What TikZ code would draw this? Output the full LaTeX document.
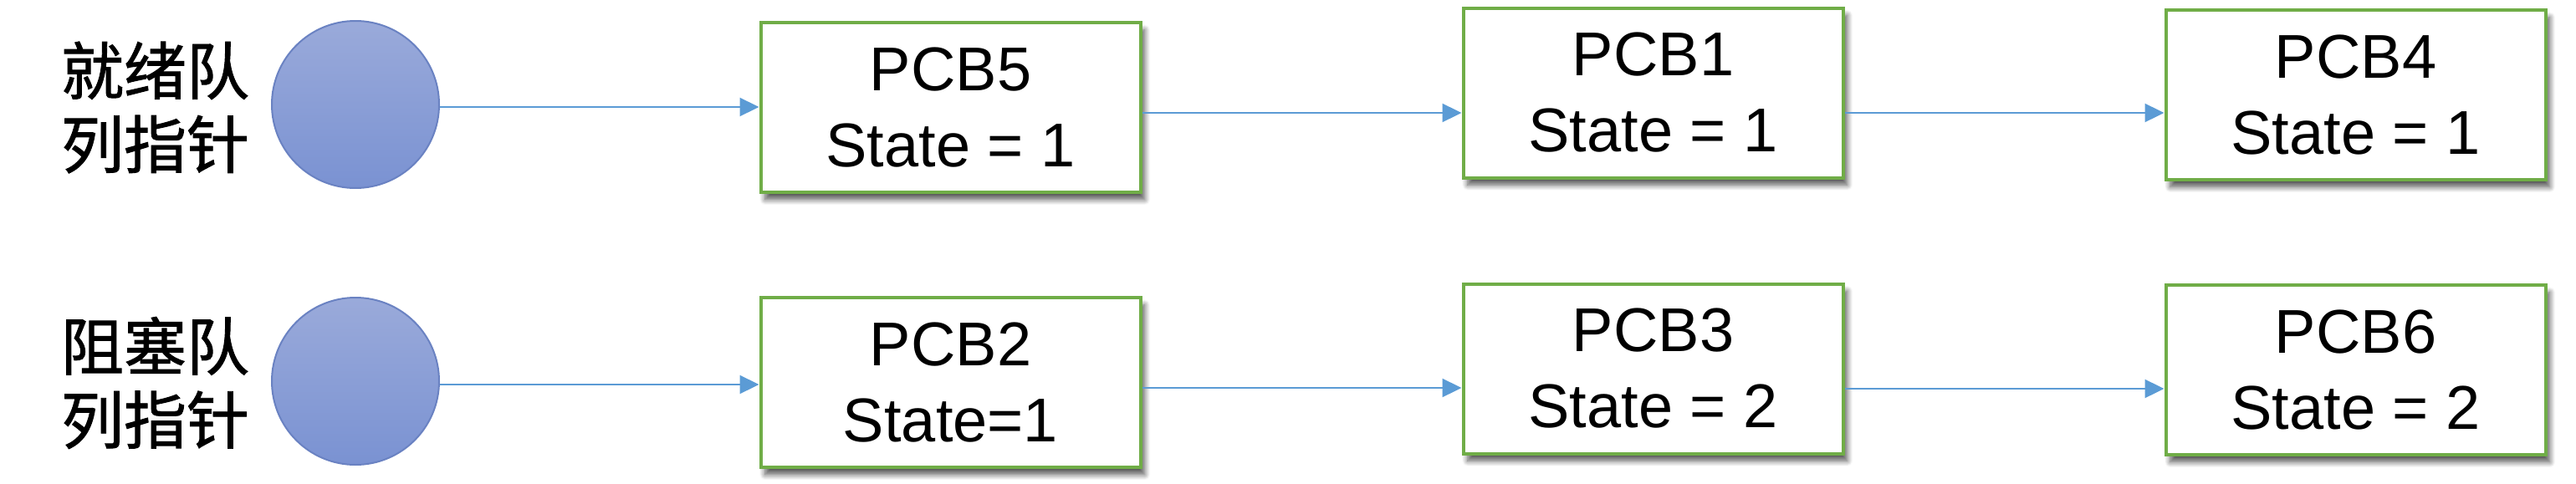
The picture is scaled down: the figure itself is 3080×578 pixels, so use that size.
\documentclass[tikz,border=0pt]{standalone}
\usepackage{fontspec}
\setmainfont{Liberation Sans}
\newfontfamily\cjk[FakeBold=1.2]{Noto Sans CJK SC}
\usetikzlibrary{arrows.meta,shadows.blur}
\definecolor{pcbgreen}{HTML}{70AD47}
\definecolor{arrowblue}{HTML}{5B9BD5}
\definecolor{circtop}{HTML}{9AAADA}
\definecolor{circbot}{HTML}{7A92D2}
\definecolor{circedge}{HTML}{6A82C2}
\begin{document}
\begin{tikzpicture}[x=0.25pt,y=-0.25pt,
  pcb/.style={draw=pcbgreen, line width=1pt, fill=white,
    minimum width=113.5pt, minimum height=50.75pt, inner sep=0pt,
    align=center, font=\fontsize{18.5}{22.75}\selectfont,
    blur shadow={shadow xshift=1.3pt, shadow yshift=-2.2pt, shadow blur radius=1.6pt, shadow blur steps=8, shadow opacity=65}},
  qhead/.style={circle, draw=circedge, line width=0.5pt, top color=circtop, bottom color=circbot,
    minimum size=50pt, inner sep=0pt},
  qlabel/.style={align=center, inner sep=0pt, font=\cjk\fontsize{18.75}{22}\selectfont},
  arr/.style={draw=arrowblue, line width=0.55pt, -{Triangle[length=5.75pt,width=5.5pt]}}
]
\useasboundingbox (0,0) rectangle (3080,578);

% ready queue
\node[qlabel] (l1) at (185.5,128.5) {就绪队\\列指针};
\node[qhead] (c1) at (425,125) {};
\node[pcb] (p5) at (1136.5,128.5) {PCB5\\State = 1};
\node[pcb] (p1) at (1976.5,111) {PCB1\\State = 1};
\node[pcb] (p4) at (2816.5,113.5) {PCB4\\State = 1};

% blocked queue
\node[qlabel] (l2) at (185.5,458) {阻塞队\\列指针};
\node[qhead] (c2) at (425,456) {};
\node[pcb] (p2) at (1136.5,457.5) {PCB2\\State=1};
\node[pcb] (p3) at (1976.5,441) {PCB3\\State = 2};
\node[pcb] (p6) at (2816.5,442.5) {PCB6\\State = 2};

\draw[arr] (c1.east |- 0,128) -- (p5.west |- 0,128);
\draw[arr] (p5.east |- 0,135) -- (p1.west |- 0,135);
\draw[arr] (p1.east |- 0,135) -- (p4.west |- 0,135);

\draw[arr] (c2.east |- 0,460) -- (p2.west |- 0,460);
\draw[arr] (p2.east |- 0,464) -- (p3.west |- 0,464);
\draw[arr] (p3.east |- 0,465) -- (p6.west |- 0,465);
\end{tikzpicture}
\end{document}
